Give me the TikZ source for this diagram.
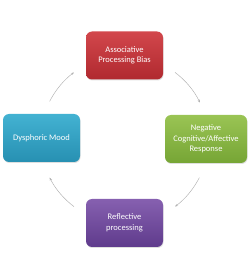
\documentclass[tikz,border=0pt]{standalone}
\usepackage{fontspec}
\setmainfont{Carlito}
\usetikzlibrary{arrows.meta,shadows}
\definecolor{redT}{HTML}{D2474C}
\definecolor{redB}{HTML}{B0292F}
\definecolor{grnT}{HTML}{9AC454}
\definecolor{grnB}{HTML}{76A535}
\definecolor{bluT}{HTML}{43B2D2}
\definecolor{bluB}{HTML}{2790B2}
\definecolor{purT}{HTML}{8660B0}
\definecolor{purB}{HTML}{5F3B8C}
\definecolor{arrc}{HTML}{B0B0B0}
\tikzset{
  box/.style={rectangle, rounded corners=6pt, minimum width=77pt, minimum height=48pt,
    text=white, align=center, font=\fontsize{8.5}{10.5}\selectfont, inner sep=2pt,
    drop shadow={shadow xshift=0.6pt, shadow yshift=-1pt, opacity=0.25}},
  arr/.style={draw=arrc, line width=0.45pt, -{Stealth[length=3pt,width=2.4pt]}}
}
\begin{document}
\begin{tikzpicture}[x=1pt,y=1pt]
\useasboundingbox (0,0) rectangle (250,279);
\node[box, top color=redT, bottom color=redB] (red) at (124.5,223.5) {Associative\\Processing Bias};
\node[box, top color=grnT, bottom color=grnB, minimum width=82pt] (grn) at (206,140) {Negative\\Cognitive/Affective\\Response};
\node[box, top color=purT, bottom color=purB] (pur) at (124.5,56) {Reflective\\processing};
\node[box, top color=bluT, bottom color=bluB] (blu) at (41.5,141) {Dysphoric Mood};
\coordinate (c) at (124.5,139.5);
\coordinate (a1) at ([shift={(53:84pt)}]c);
\coordinate (a2) at ([shift={(-27:84pt)}]c);
\coordinate (a3) at ([shift={(-127:84pt)}]c);
\coordinate (a4) at ([shift={(153:84pt)}]c);
\draw[arr] (a1) arc[start angle=53, end angle=26, radius=84pt];
\draw[arr] (a2) arc[start angle=-27, end angle=-53, radius=84pt];
\draw[arr] (a3) arc[start angle=-127, end angle=-153, radius=84pt];
\draw[arr] (a4) arc[start angle=153, end angle=127, radius=84pt];
\end{tikzpicture}
\end{document}
